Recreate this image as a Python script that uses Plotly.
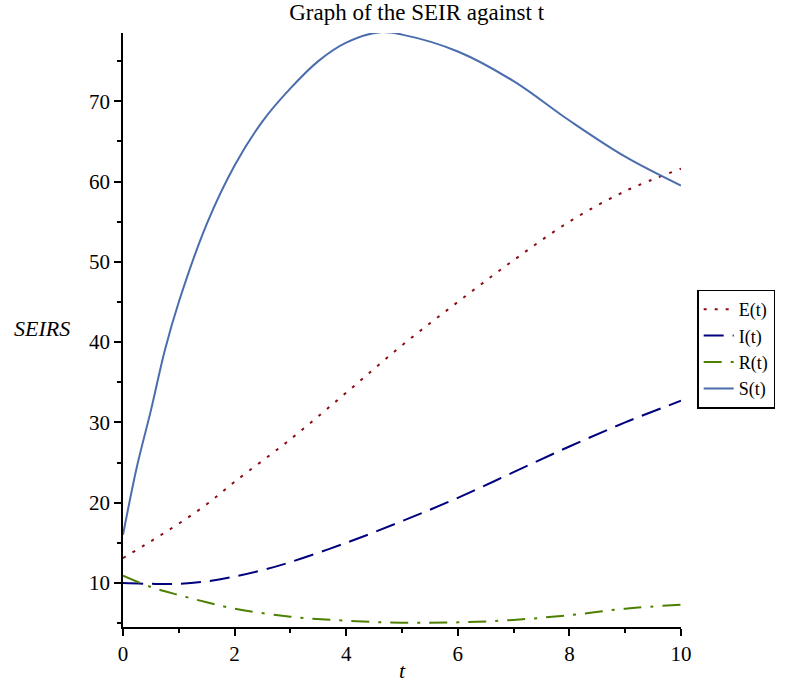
import plotly.graph_objects as go

# data
t_S = [0, 0.25, 0.5, 0.75, 1, 1.5, 2, 2.5, 3, 3.5, 4, 4.6, 5, 6, 7, 8, 9, 10]
S = [16.0, 24.5, 31.5, 39.0, 45.0, 54.7, 62.0, 67.5, 71.6, 75.0, 77.3, 78.6, 78.3, 76.2, 72.5, 67.6, 63.1, 59.5]

t_E = [0, 0.5, 1, 1.5, 2, 3, 4, 5, 6, 7, 8, 9, 10]
E = [13.1, 15.2, 17.4, 19.8, 22.6, 27.9, 33.7, 39.6, 45.0, 50.2, 55.0, 58.8, 61.6]

t_I = [0, 0.5, 1, 1.5, 2, 2.5, 3, 4, 5, 6, 7, 8, 9, 10]
I = [10.0, 9.9, 9.9, 10.2, 10.8, 11.6, 12.6, 15.0, 17.7, 20.6, 23.8, 27.0, 30.0, 32.7]

t_R = [0, 0.5, 1, 1.5, 2, 3, 4, 5, 6, 7, 8, 9, 10]
R = [10.9, 9.5, 8.5, 7.6, 6.8, 5.8, 5.3, 5.05, 5.1, 5.4, 6.0, 6.8, 7.3]

SERIF = "Liberation Serif, Times New Roman, serif"

fig = go.Figure()
fig.add_trace(go.Scatter(x=t_E, y=E, mode="lines", name="E(t)",
                         line=dict(color="#8B0A14", width=2, dash="3px,8px", shape="spline", smoothing=1)))
fig.add_trace(go.Scatter(x=t_I, y=I, mode="lines", name="I(t)",
                         line=dict(color="#00007F", width=2, dash="20px,9px", shape="spline", smoothing=1)))
fig.add_trace(go.Scatter(x=t_R, y=R, mode="lines", name="R(t)",
                         line=dict(color="#4D8000", width=2, dash="18px,9px,3px,9px", shape="spline", smoothing=1)))
fig.add_trace(go.Scatter(x=t_S, y=S, mode="lines", name="S(t)",
                         line=dict(color="#4A6DAD", width=2, shape="spline", smoothing=1)))

axis_common = dict(showgrid=False, zeroline=False, showline=True, linecolor="black", linewidth=1.5,
                   ticks="outside", ticklen=7, tickcolor="black", tickwidth=1.5,
                   tickfont=dict(family=SERIF, size=21, color="black"))

fig.update_layout(
    width=809, height=684,
    margin=dict(l=123, r=128, t=33, b=57),
    paper_bgcolor="white", plot_bgcolor="white",
    title=dict(text="Graph of the SEIR against t", x=0.515, xanchor="center", y=0.982, yanchor="middle",
               font=dict(family=SERIF, size=23, color="black")),
    xaxis=dict(range=[0, 10], tick0=0, dtick=2, **axis_common,
               minor=dict(dtick=1, tick0=0, ticks="outside", ticklen=4, tickcolor="black", tickwidth=1.5)),
    yaxis=dict(range=[4.52, 78.5], tick0=0, dtick=10, **axis_common,
               minor=dict(dtick=5, tick0=0, ticks="outside", ticklen=4, tickcolor="black", tickwidth=1.5)),
    legend=dict(x=1.029, xanchor="left", y=0.468, yanchor="middle",
                bordercolor="black", borderwidth=1.5, bgcolor="white",
                font=dict(family=SERIF, size=18, color="black"), tracegroupgap=0),
    showlegend=True,
    annotations=[
        dict(text="<i>SEIRS</i>", xref="paper", yref="paper", x=-0.145, y=0.503, showarrow=False,
             font=dict(family=SERIF, size=22, color="black"), xanchor="center", yanchor="middle"),
        dict(text="<i>t</i>", xref="paper", yref="paper", x=0.5, y=-0.074, showarrow=False,
             font=dict(family=SERIF, size=22, color="black"), xanchor="center", yanchor="middle"),
    ],
)

fig.write_html("out.html", config={"displayModeBar": False},
               post_script="document.body.style.margin='0';document.body.style.padding='0';")
